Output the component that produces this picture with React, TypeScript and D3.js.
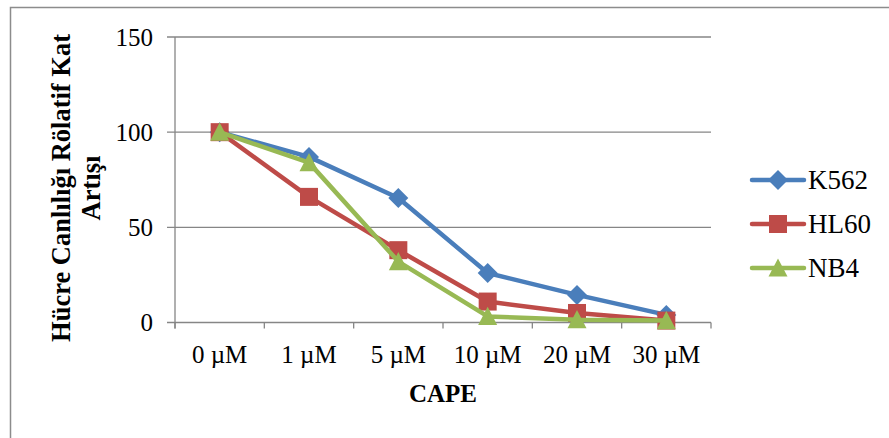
import React from "react";
import * as d3 from "d3";

const categories = ["0 µM", "1 µM", "5 µM", "10 µM", "20 µM", "30 µM"];
const k562 = [100, 87, 65.4, 26, 14.5, 4];
const hl60 = [100, 66, 38, 11, 5, 1];
const nb4 = [100, 84, 32, 3.2, 1.5, 1];
const yTicks = [0, 50, 100, 150];

const seriesList = [
  { name: "K562", values: k562, color: "#4A7EBB", marker: "diamond" },
  { name: "HL60", values: hl60, color: "#BE4B48", marker: "square" },
  { name: "NB4", values: nb4, color: "#98B954", marker: "triangle" },
];

const W = 889;
const H = 438;
const plot = { left: 175, right: 711, top: 37, bottom: 322.5 };
const font = "Times New Roman, Liberation Serif, serif";
const fs = 25;

function Marker({ type, x, y, color }: { type: string; x: number; y: number; color: string }) {
  if (type === "diamond") {
    const r = 10;
    return <path d={`M${x},${y - r}L${x + r},${y}L${x},${y + r}L${x - r},${y}Z`} fill={color} />;
  }
  if (type === "square") {
    const s = 18;
    return <rect x={x - s / 2} y={y - s / 2} width={s} height={s} fill={color} />;
  }
  const s = 19;
  const h = s * 0.9;
  return <path d={`M${x},${y - h / 2 - 1}L${x + s / 2},${y + h / 2}L${x - s / 2},${y + h / 2}Z`} fill={color} />;
}

export default function App() {
  const x = d3.scaleBand<string>().domain(categories).range([plot.left, plot.right]);
  const y = d3.scaleLinear().domain([0, 150]).range([plot.bottom, plot.top]);
  const cx = (c: string) => (x(c) ?? 0) + x.bandwidth() / 2;
  const line = d3
    .line<number>()
    .x((_, i) => cx(categories[i]))
    .y((v) => y(v));

  const legendY = [180, 224, 268];

  return (
    <svg width={W} height={H} style={{ position: "absolute", left: 0, top: 0 }}>
      <rect x={0} y={0} width={W} height={H} fill="#fff" />
      <rect x={10.5} y={7.5} width={W + 10} height={H + 10} fill="none" stroke="#8c8c8c" strokeWidth={1.5} />

      {/* gridlines and y ticks */}
      {yTicks.map((t) => (
        <g key={t}>
          <line x1={plot.left - 8} x2={plot.right} y1={y(t)} y2={y(t)} stroke="#868686" strokeWidth={1.3} />
          <text x={plot.left - 22} y={y(t)} dy="0.35em" textAnchor="end" fontFamily={font} fontSize={fs} fill="#000">
            {t}
          </text>
        </g>
      ))}
      <line x1={plot.left} x2={plot.left} y1={plot.top} y2={plot.bottom + 6} stroke="#868686" strokeWidth={1.3} />
      {/* x ticks at category boundaries */}
      {d3.range(categories.length + 1).map((i) => {
        const xx = plot.left + i * x.step();
        return <line key={i} x1={xx} x2={xx} y1={plot.bottom} y2={plot.bottom + 6} stroke="#868686" strokeWidth={1.3} />;
      })}
      {categories.map((c) => (
        <text key={c} x={cx(c)} y={363} textAnchor="middle" fontFamily={font} fontSize={fs} fill="#000">
          {c}
        </text>
      ))}

      <text x={443} y={402} textAnchor="middle" fontFamily={font} fontSize={fs} fontWeight="bold" fill="#000">
        CAPE
      </text>
      <g transform="translate(70,188) rotate(-90)">
        <text x={0} y={0} textAnchor="middle" fontFamily={font} fontSize={26.5} fontWeight="bold" fill="#000">
          Hücre Canlılığı Rölatif Kat
        </text>
        <text x={0} y={30} textAnchor="middle" fontFamily={font} fontSize={26.5} fontWeight="bold" fill="#000">
          Artışı
        </text>
      </g>

      {/* series */}
      {seriesList.map((s) => (
        <g key={s.name}>
          <path d={line(s.values) ?? ""} fill="none" stroke={s.color} strokeWidth={4.5} strokeLinejoin="round" strokeLinecap="round" />
          {s.values.map((v, i) => (
            <Marker key={i} type={s.marker} x={cx(categories[i])} y={y(v)} color={s.color} />
          ))}
        </g>
      ))}

      {/* legend */}
      {seriesList.map((s, i) => (
        <g key={s.name}>
          <line x1={752} x2={804} y1={legendY[i]} y2={legendY[i]} stroke={s.color} strokeWidth={4.5} strokeLinecap="round" />
          <Marker type={s.marker} x={778} y={legendY[i]} color={s.color} />
          <text x={808} y={legendY[i]} dy="0.35em" fontFamily={font} fontSize={27} fill="#000">
            {s.name}
          </text>
        </g>
      ))}
    </svg>
  );
}
